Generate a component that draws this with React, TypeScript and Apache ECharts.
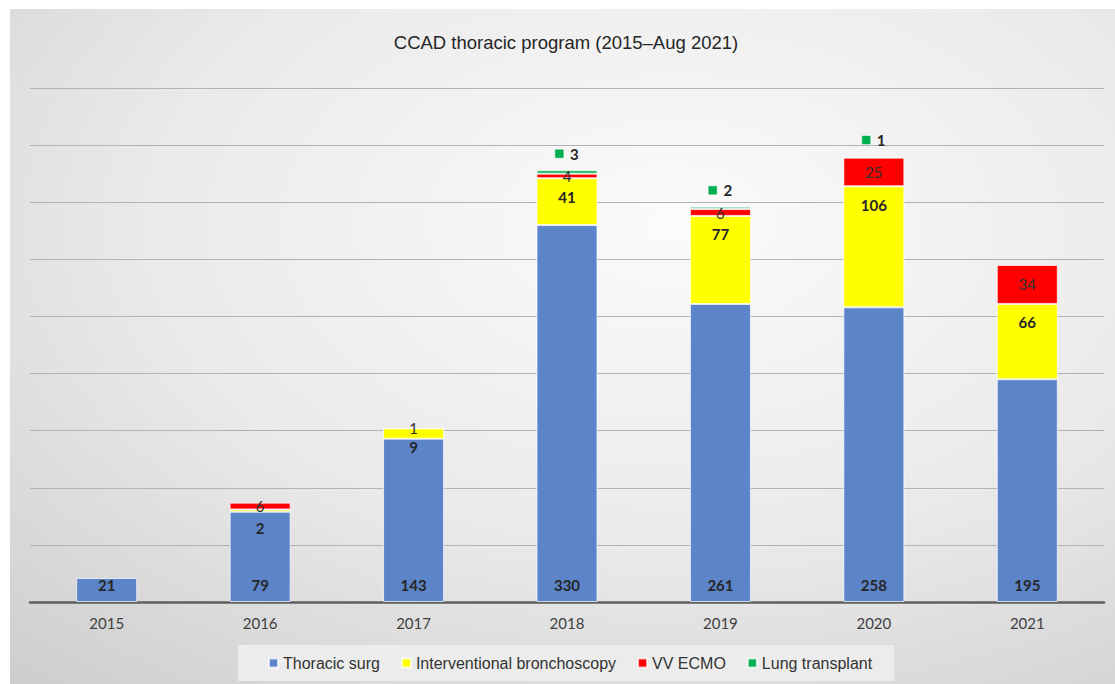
import React, { useEffect, useRef } from "react";
import * as echarts from "echarts";

const years = ["2015", "2016", "2017", "2018", "2019", "2020", "2021"];
const thoracicSurg = [21, 79, 143, 330, 261, 258, 195];
const bronchoscopy = [null, 2, 9, 41, 77, 106, 66];
const vvEcmo = [null, 6, 1, 4, 6, 25, 34];
const lungTransplant = [null, null, null, 3, 2, 1, null];
const yTicks = { min: 0, max: 450, interval: 50 };

const LABEL_FONT = "Lato, 'Open Sans', sans-serif";
const SANS = "'Liberation Sans', Arial, sans-serif";

export default function App() {
  const ref = useRef<HTMLDivElement>(null);
  useEffect(() => {
    if (!ref.current) return;
    const chart = echarts.init(ref.current, null, { renderer: "svg" });
    const border = { borderColor: "rgba(255,255,255,0.7)", borderWidth: 1 };
    chart.setOption({
      animation: false,
      graphic: [
        {
          type: "rect",
          z: -10,
          silent: true,
          shape: { x: 10, y: 9, width: 1105, height: 675 },
          style: {
            fill: new echarts.graphic.RadialGradient(0.6, 0.32, 1.05, [
              { offset: 0, color: "#fbfbfb" },
              { offset: 0.45, color: "#eaeaea" },
              { offset: 1, color: "#c4c4c4" },
            ]),
          },
        },
      ],
      title: {
        text: "CCAD thoracic program (2015–Aug 2021)",
        left: 561,
        top: 28,
        textAlign: "center",
        textStyle: { fontFamily: SANS, fontSize: 18.5, fontWeight: "normal", color: "#262626" },
      },
      legend: {
        left: 238,
        top: 645,
        backgroundColor: "#ececec",
        padding: [10, 22, 10, 30],
        itemWidth: 9,
        itemHeight: 9,
        itemGap: 21,
        icon: "rect",
        textStyle: { fontFamily: SANS, fontSize: 16, color: "#333333" },
        data: ["Thoracic surg", "Interventional bronchoscopy", "VV ECMO", "Lung transplant"],
      },
      grid: { left: 30, right: 11, top: 88, bottom: 82, containLabel: false },
      xAxis: {
        type: "category",
        data: years,
        axisLine: { lineStyle: { color: "#5f5f5f", width: 2.5 } },
        axisTick: { show: false },
        axisLabel: { color: "#404040", fontSize: 15, fontFamily: LABEL_FONT, margin: 13 },
      },
      yAxis: {
        type: "value",
        min: yTicks.min,
        max: yTicks.max,
        interval: yTicks.interval,
        axisLabel: { show: false },
        axisLine: { show: false },
        axisTick: { show: false },
        splitLine: { lineStyle: { color: "#b3b3b3", width: 1 } },
      },
      series: [
        {
          name: "Thoracic surg",
          type: "bar",
          stack: "a",
          barWidth: 61,
          data: thoracicSurg,
          itemStyle: { color: "#5b84c9", ...border },
          label: {
            show: true,
            position: "insideBottom",
            distance: 10,
            fontFamily: LABEL_FONT,
            fontWeight: "bold",
            fontSize: 15,
            color: "#262626",
          },
        },
        {
          name: "Interventional bronchoscopy",
          type: "bar",
          stack: "a",
          barWidth: 61,
          data: bronchoscopy,
          itemStyle: { color: "#ffff00", ...border },
          label: {
            show: true,
            position: "insideTop",
            distance: 11,
            fontFamily: LABEL_FONT,
            fontWeight: "bold",
            fontSize: 15,
            color: "#262626",
            formatter: (p: any) => (p.value ? String(p.value) : ""),
          },
        },
        {
          name: "VV ECMO",
          type: "bar",
          stack: "a",
          barWidth: 61,
          data: vvEcmo,
          itemStyle: { color: "#ff0000", ...border },
          label: {
            show: true,
            position: "inside",
            fontFamily: LABEL_FONT,
            fontSize: 15,
            color: "#303030",
            formatter: (p: any) => (p.value ? String(p.value) : ""),
          },
        },
        {
          name: "Lung transplant",
          type: "bar",
          stack: "a",
          barWidth: 61,
          data: lungTransplant,
          itemStyle: { color: "#00b050", ...border },
          label: {
            show: true,
            position: "top",
            distance: 9,
            formatter: (p: any) => (p.value ? `{sq|}  {v|${p.value}}` : ""),
            rich: {
              sq: { width: 8, height: 8, backgroundColor: "#00b050", borderColor: "#8fd9a8", borderWidth: 0.5 },
              v: { fontFamily: LABEL_FONT, fontWeight: "bold", fontSize: 15, color: "#262626" },
            },
          },
        },
      ],
    });
    return () => chart.dispose();
  }, []);
  return (
    <div
      ref={ref}
      style={{ position: "absolute", left: 0, top: 0, width: 1115, height: 684 }}
    />
  );
}
